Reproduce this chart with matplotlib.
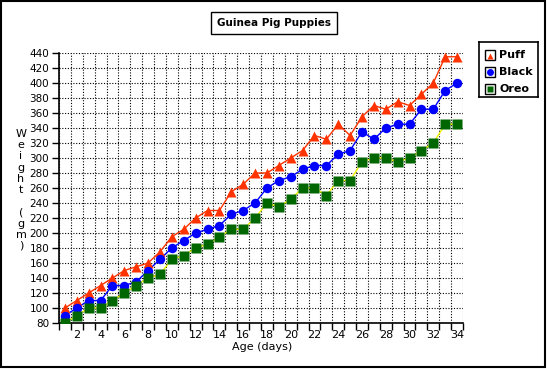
import numpy as np
import matplotlib.pyplot as plt
from matplotlib.patches import Rectangle

days = np.arange(1, 35)
puff = [100, 110, 120, 130, 140, 150, 155, 160, 175, 195, 205, 220, 230, 230, 255, 265, 280,
        280, 290, 300, 310, 330, 325, 345, 330, 355, 370, 365, 375, 370, 385, 400, 435, 435]
black = [90, 100, 110, 110, 130, 130, 135, 150, 165, 180, 190, 200, 205, 210, 225, 230, 240,
         260, 270, 275, 285, 290, 290, 305, 310, 335, 325, 340, 345, 345, 365, 365, 390, 400]
oreo = [80, 90, 100, 100, 110, 120, 130, 140, 145, 165, 170, 180, 185, 195, 205, 205, 220,
        240, 235, 245, 260, 260, 250, 270, 270, 295, 300, 300, 295, 300, 310, 320, 345, 345]
names = ["Puff", "Black", "Oreo"]

W, H = 548, 369
fig = plt.figure(figsize=(W / 100, H / 100), dpi=100)

def fx(px):
    return px / W

def fy(py):
    return 1 - py / H

ax = fig.add_axes([fx(59), fy(323), fx(463) - fx(59), fy(53) - fy(323)])

# lines then markers (marker colour differs from line colour)
ax.plot(days, puff, color="#FF3300", lw=1, zorder=3)
ax.plot(days, black, color="#0000FF", lw=1, zorder=3)
ax.plot(days, oreo, color="#F2F200", lw=1, zorder=3)
ax.plot(days, puff, ls="none", marker="^", ms=7.5, mfc="#FF3300", mec="none", zorder=4)
ax.plot(days, black, ls="none", marker="o", ms=6.8, mfc="#0000FF", mec="none", zorder=4)
ax.plot(days, oreo, ls="none", marker="s", ms=6.5, mfc="#006600", mec="none", zorder=4)

ax.set_xlim(0.5, 34.5)
ax.set_ylim(80, 440)
ax.set_yticks(np.arange(80, 441, 20))
ax.set_xticks(np.arange(2, 35, 2))
ax.set_xticks(np.arange(0.5, 35, 1), minor=True)
ax.tick_params(axis="x", which="major", length=0, labelsize=8, pad=5)
ax.tick_params(axis="x", which="minor", length=5, width=1, direction="out")
ax.tick_params(axis="y", length=5, width=1, direction="out", labelsize=7.5, pad=2)
ax.grid(True, which="minor", axis="x", color="black", ls=(0, (1, 1.5)), lw=0.8)
ax.grid(True, which="major", axis="y", color="black", ls=(0, (1, 1.5)), lw=0.8)
ax.spines["top"].set_visible(False)
ax.spines["right"].set_visible(False)
ax.spines["left"].set_linewidth(1.2)
ax.spines["bottom"].set_linewidth(1.2)
ax.set_axisbelow(True)

# stacked y label
fig.text(fx(21), fy(190), "\n".join("Weight") + "\n\n" + "\n".join("(gm)"),
         ha="center", va="center", fontsize=8, linespacing=1.15)
fig.text(fx(262), fy(347), "Age (days)", ha="center", va="center", fontsize=8)

# title box
fig.text(fx(274), fy(23), "Guinea Pig Puppies", ha="center", va="center",
         fontsize=7.5, fontweight="bold",
         bbox=dict(boxstyle="square,pad=0.55", fc="white", ec="black", lw=1))

# legend
lg = fig.add_axes([fx(479), fy(97), fx(538) - fx(479), fy(42) - fy(97)])
lg.set_xlim(0, 59)
lg.set_ylim(55, 0)
lg.set_xticks([])
lg.set_yticks([])
for s in lg.spines.values():
    s.set_linewidth(1.2)
marks = ["^", "o", "s"]
fills = ["#FF3300", "#0000FF", "#006600"]
for i, (n, m, c) in enumerate(zip(names, marks, fills)):
    yc = 13 + i * 17
    lg.add_patch(Rectangle((6, yc - 5), 10, 10, fill=False, ec="black", lw=1))
    lg.plot(11, yc + (0.5 if m == "^" else 0), marker=m, ms=5, color=c, mec="none")
    lg.text(20, yc, n, va="center", ha="left", fontsize=8, fontweight="bold")

# outer frame
fig.add_artist(Rectangle((fx(1), fy(367)), fx(545) - fx(1), fy(1) - fy(367),
                         fill=False, ec="black", lw=1.5, transform=fig.transFigure))

fig.savefig("out.png", dpi=100)
